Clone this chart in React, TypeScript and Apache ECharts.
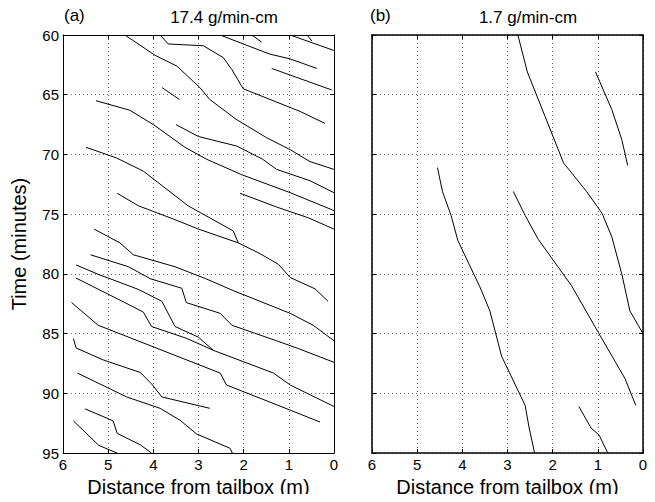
import React, { useEffect, useRef } from "react";
import * as echarts from "echarts";

// Tick values
const xTicks = [0, 1, 2, 3, 4, 5, 6];
const yTicks = [60, 65, 70, 75, 80, 85, 90, 95];

// Panel (a): 17.4 g/min-cm — [distance (m), time (min)]
const a01 = [[4.63, 60.0], [3.96, 61.7], [3.48, 62.6], [2.97, 64.4], [2.75, 65.4], [2.15, 67.1], [1.49, 68.6], [0.97, 69.6], [0.53, 70.6], [0.0, 71.25]];
const a02 = [[3.85, 60.0], [3.67, 60.75], [2.89, 60.9], [2.45, 61.9], [2.26, 62.9], [2.01, 64.5], [0.75, 66.4], [0.2, 67.4]];
const a03 = [[2.52, 60.0], [2.01, 60.75], [1.42, 61.6], [0.97, 62.0], [0.38, 62.8]];
const a04 = [[1.82, 60.0], [1.6, 60.6]];
const a05 = [[0.97, 60.0], [0.0, 61.3]];
const a06 = [[0.6, 60.0], [0.49, 60.5]];
const a07 = [[1.38, 62.8], [0.05, 64.6]];
const a08 = [[3.81, 64.4], [3.42, 65.4]];
const a09 = [[5.27, 65.5], [4.52, 66.3], [4.0, 67.5], [3.3, 69.4], [2.82, 70.4], [2.04, 71.7], [0.97, 73.2], [0.0, 74.7]];
const a10 = [[3.5, 67.5], [3.0, 68.5], [2.15, 69.3], [1.58, 70.4], [1.27, 71.25], [0.53, 72.2], [0.0, 73.2]];
const a11 = [[5.49, 69.4], [4.81, 70.3], [4.22, 71.4], [3.23, 74.3], [2.23, 76.4], [2.12, 77.4], [1.64, 78.3], [1.23, 79.2], [0.97, 80.3], [0.42, 81.25], [0.13, 82.3]];
const a12 = [[2.08, 73.25], [1.27, 74.4], [0.57, 75.3], [0.0, 76.25]];
const a13 = [[4.8, 73.25], [4.33, 74.3], [3.56, 75.4], [3.0, 76.25], [2.12, 77.4]];
const a14 = [[5.31, 76.25], [4.74, 77.4], [4.44, 78.4], [3.52, 79.4], [2.84, 80.4], [2.23, 81.4], [0.97, 83.3], [0.46, 84.3], [0.0, 85.6]];
const a15 = [[5.39, 78.4], [4.55, 79.4], [4.07, 80.4], [3.37, 81.2], [3.27, 82.4], [2.52, 83.3], [2.26, 84.3], [1.27, 85.6], [0.79, 86.25], [0.0, 87.4]];
const a16 = [[5.71, 79.25], [5.18, 80.1], [4.96, 80.4], [4.33, 81.3], [3.81, 82.3], [3.52, 84.4], [3.0, 85.3], [2.67, 86.4], [1.34, 88.3], [0.97, 89.3], [0.0, 91.1]];
const a17 = [[5.71, 80.35], [4.63, 82.4], [4.22, 83.2], [4.04, 84.4], [3.26, 85.4], [2.67, 86.4]];
const a18 = [[5.81, 82.4], [5.22, 84.3], [2.52, 88.3], [2.38, 89.3], [0.97, 91.4], [0.31, 92.4]];
const a19 = [[5.77, 85.4], [5.71, 86.2], [5.11, 87.2], [4.29, 88.25], [4.04, 89.2], [3.81, 90.3], [2.75, 91.25]];
const a20 = [[5.68, 88.3], [4.59, 90.3], [3.85, 91.25], [3.41, 92.25], [3.04, 93.4], [2.3, 94.6], [2.25, 95.0]];
const a21 = [[5.51, 91.3], [4.89, 92.3], [4.8, 93.35], [4.29, 94.3], [4.04, 95.0]];
const a22 = [[5.77, 92.3], [5.21, 94.35], [4.8, 95.0]];

// Panel (b): 1.7 g/min-cm
const b01 = [[2.77, 60.0], [2.56, 63.1], [2.17, 66.8], [1.76, 70.7], [1.25, 73.1], [0.91, 74.9], [0.69, 76.9], [0.47, 80.0], [0.29, 83.1], [0.0, 85.0]];
const b02 = [[1.05, 63.1], [0.69, 66.25], [0.47, 68.75], [0.34, 70.9]];
const b03 = [[4.55, 71.1], [4.44, 73.1], [4.25, 75.1], [4.1, 77.2], [3.61, 81.1], [3.39, 83.1], [3.13, 86.9], [2.61, 91.0], [2.52, 92.9], [2.4, 95.0]];
const b04 = [[2.87, 73.1], [2.61, 75.1], [2.32, 77.1], [1.58, 81.0], [0.99, 84.9], [0.4, 88.75], [0.16, 91.0]];
const b05 = [[1.42, 91.1], [1.15, 92.9], [0.97, 93.5], [0.78, 95.0]];

const panelA = [a01, a02, a03, a04, a05, a06, a07, a08, a09, a10, a11, a12, a13, a14, a15, a16, a17, a18, a19, a20, a21, a22];
const panelB = [b01, b02, b03, b04, b05];

const titles = ["17.4 g/min-cm", "1.7 g/min-cm"];
const letters = ["(a)", "(b)"];

const FONT = "'Liberation Sans', Arial, Helvetica, sans-serif";

export default function App() {
  const ref = useRef<HTMLDivElement>(null);

  useEffect(() => {
    if (!ref.current) return;
    const chart = echarts.init(ref.current, undefined, { renderer: "svg" });

    const grids = [
      { left: 63, top: 35, width: 271, height: 420 },
      { left: 372, top: 35, width: 271, height: 420 },
    ];

    const xAxes: any[] = [];
    const yAxes: any[] = [];
    grids.forEach((g, gi) => {
      const bw = gi === 0 ? 1 : 1.5;
      const base = {
        type: "value",
        gridIndex: gi,
        inverse: true,
        axisLine: { show: true, onZero: false, lineStyle: { color: "#000", width: bw } },
        axisTick: { show: true, inside: true, length: 4, lineStyle: { color: "#000" } },
      };
      xAxes.push({
        ...base,
        position: "bottom",
        min: xTicks[0],
        max: xTicks[xTicks.length - 1],
        interval: 1,
        axisLabel: { show: true, color: "#000", fontSize: 15, fontFamily: FONT, margin: 4 },
        splitLine: { show: true, lineStyle: { color: "#666", type: [1, 3], width: 1 } },
        name: "Distance from tailbox (m)",
        nameLocation: "middle",
        nameGap: 19,
        nameTextStyle: { color: "#000", fontSize: 20, fontFamily: FONT },
      });
      xAxes.push({
        ...base,
        position: "top",
        min: xTicks[0],
        max: xTicks[xTicks.length - 1],
        interval: 1,
        axisLabel: { show: false },
        splitLine: { show: false },
      });
      yAxes.push({
        ...base,
        position: "left",
        min: yTicks[0],
        max: yTicks[yTicks.length - 1],
        interval: 5,
        axisLabel: { show: gi === 0, color: "#000", fontSize: 15, fontFamily: FONT, margin: 4 },
        splitLine: { show: true, lineStyle: { color: "#666", type: [1, 3], width: 1 } },
        name: gi === 0 ? "Time (minutes)" : "",
        nameLocation: "middle",
        nameGap: 34,
        nameRotate: 90,
        nameTextStyle: { color: "#000", fontSize: 20, fontFamily: FONT },
      });
      yAxes.push({
        ...base,
        position: "right",
        min: yTicks[0],
        max: yTicks[yTicks.length - 1],
        interval: 5,
        axisLabel: { show: false },
        splitLine: { show: false },
      });
    });

    const series: any[] = [];
    [panelA, panelB].forEach((lines, gi) => {
      lines.forEach((pts) => {
        series.push({
          type: "line",
          xAxisIndex: gi * 2,
          yAxisIndex: gi * 2,
          data: pts,
          showSymbol: false,
          symbol: "none",
          silent: true,
          lineStyle: { color: "#000", width: 1 },
        });
      });
    });

    const graphic: any[] = [];
    const letterX = [64, 370];
    const titleX = [224, 528];
    grids.forEach((g, gi) => {
      graphic.push({
        type: "text",
        x: letterX[gi],
        y: 7,
        style: { text: letters[gi], fontSize: 17, fontFamily: FONT, fill: "#000" },
      });
      graphic.push({
        type: "text",
        x: titleX[gi],
        y: 9,
        style: { text: titles[gi], fontSize: 17, fontFamily: FONT, fill: "#000", textAlign: "center" },
      });
    });

    chart.setOption({
      animation: false,
      backgroundColor: "#fff",
      grid: grids.map((g) => ({ ...g, containLabel: false })),
      xAxis: xAxes,
      yAxis: yAxes,
      series,
      graphic,
    });

    return () => chart.dispose();
  }, []);

  return <div ref={ref} style={{ width: 655, height: 502, margin: -8 }} />;
}
